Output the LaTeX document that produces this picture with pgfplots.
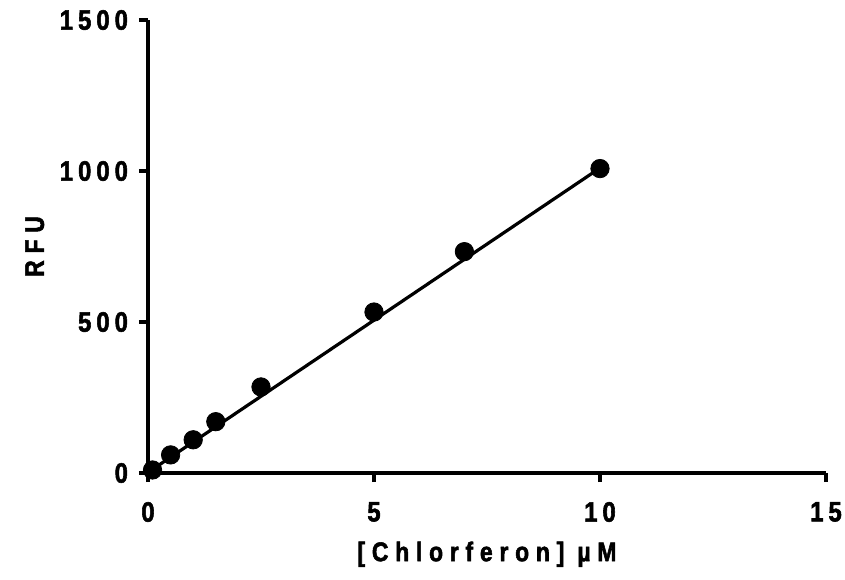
\documentclass[border=0pt]{standalone}
\usepackage{fontspec}
\setmainfont{Liberation Sans}[LetterSpace=18, FakeStretch=0.85, BoldFeatures={FakeBold=2}]
\newfontfamily\labfont{Liberation Sans}[LetterSpace=25, FakeStretch=0.85, BoldFeatures={FakeBold=2}]
\usepackage{pgfplots}
\pgfplotsset{compat=1.18}
\begin{document}
\begin{tikzpicture}
\useasboundingbox (-74pt,-53pt) rectangle (348.5pt,236.5pt);
\begin{axis}[
  anchor=south west, at={(0,0)},
  scale only axis, width=339pt, height=226.5pt,
  xmin=0, xmax=15, ymin=0, ymax=1500,
  axis x line*=bottom, axis y line*=left,
  axis line style={line width=2pt, -},
  xtick={0,5,10,15}, ytick={0,500,1000,1500},
  tick style={line width=2pt, black},
  tick align=outside, major tick length=4.5pt,
  /pgf/number format/assume math mode=true,
  /pgf/number format/1000 sep={},
  ticklabel style={font=\fontsize{14}{16}\selectfont\bfseries},
  xticklabel style={yshift=-6.5pt},
  yticklabel style={xshift=-2pt},
  label style={font=\labfont\fontsize{13.5}{16}\selectfont\bfseries},
  xlabel={[Chlorferon] µM},
  ylabel={RFU},
  xlabel style={yshift=-3pt},
  ylabel style={yshift=1pt},
  clip=false,
]
\addplot[black, line width=1.6pt] coordinates {(0.1,12) (10,1010)};
\addplot[only marks, mark=*, mark size=4.6pt, black] coordinates {
(0.1,10) (0.5,60) (1,110) (1.5,170) (2.5,285) (5,533) (7,733) (10,1008)
};
\end{axis}
\end{tikzpicture}
\end{document}
